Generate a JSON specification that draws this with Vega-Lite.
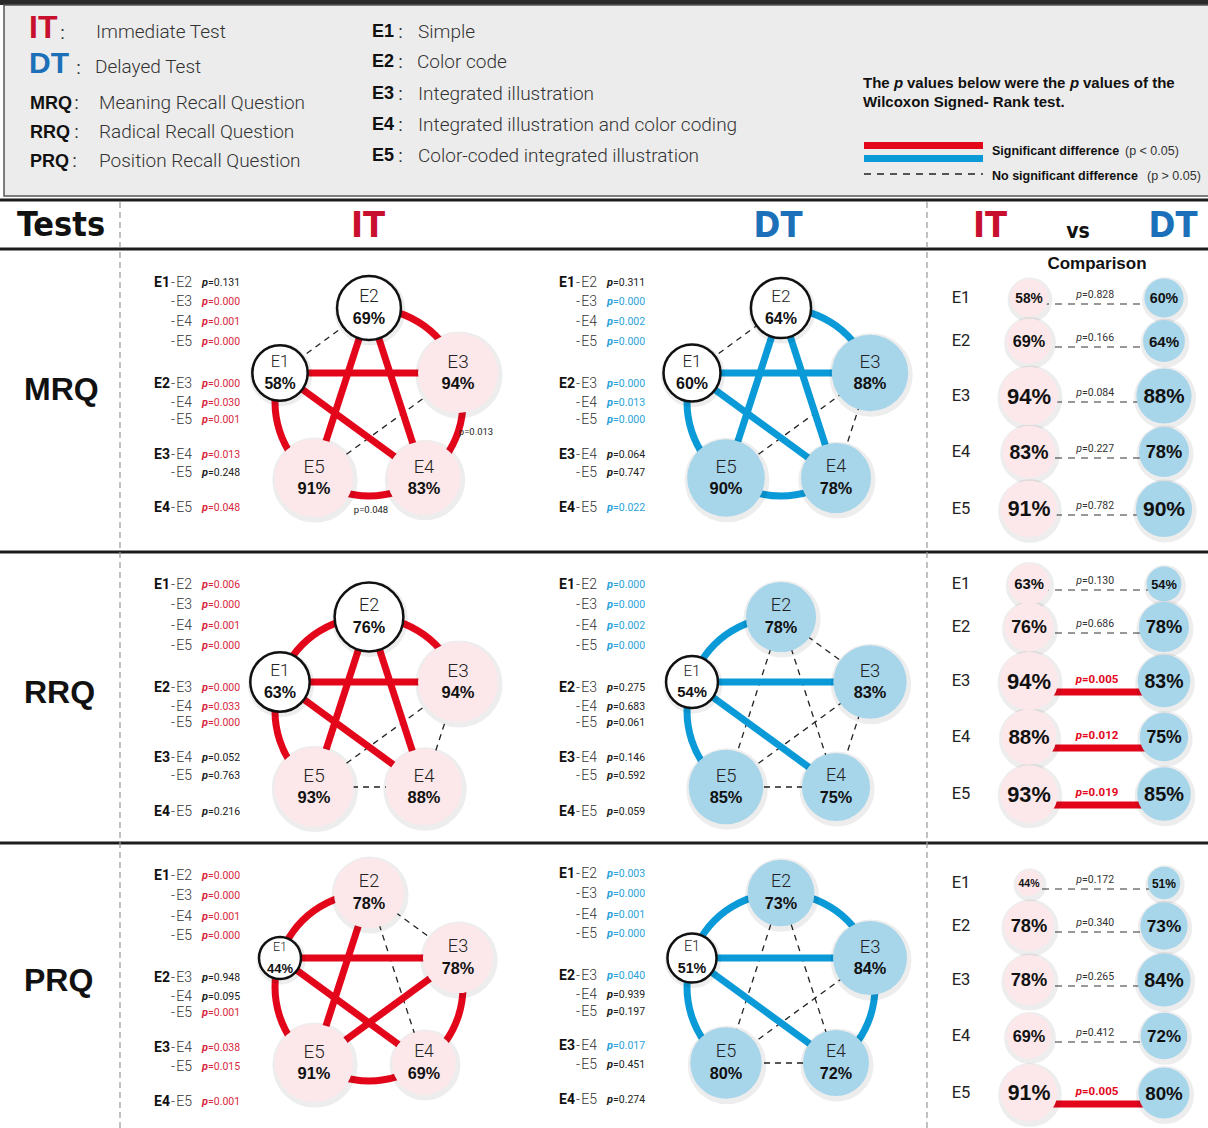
{
"$schema":"https://vega.github.io/schema/vega-lite/v6.json",
"width":1208,"height":1128,
"autosize":{"type":"none"},
"padding":0,
"background":"#ffffff",
"config":{"view":{"stroke":null},"locale":{"number":{"decimal":".","thousands":",","grouping":[3],"currency":["=",""]}}},
"datasets":{
"shapes":[
{"role":"top","x":0,"x2":1208,"y":0,"y2":5},
{"role":"hdr","x":4,"x2":1214,"y":5,"y2":196},
{"role":"red","x":864,"x2":983,"y":142,"y2":149},
{"role":"blue","x":864,"x2":983,"y":155,"y2":162}
],
"lines":[
{"role":"thick","x":0,"x2":1208,"y":200},
{"role":"thick","x":0,"x2":1208,"y":249},
{"role":"thick","x":0,"x2":1208,"y":552},
{"role":"thick","x":0,"x2":1208,"y":843},
{"role":"keydash","x":864,"x2":983,"y":174},
{"role":"v","x":120,"y":202,"y2":1128},
{"role":"v","x":927,"y":202,"y2":1128}
],
"labels":[
{"role":"legIT","text":"IT","x":29,"y":28},
{"role":"legDT","text":"DT","x":29,"y":64},
{"role":"legColon","text":":","x":60,"y":34},
{"role":"legColon","text":":","x":76,"y":69},
{"role":"legKey","text":"MRQ","x":30,"y":104},
{"role":"legColon","text":":","x":74,"y":104},
{"role":"legKey","text":"RRQ","x":30,"y":133},
{"role":"legColon","text":":","x":74,"y":133},
{"role":"legKey","text":"PRQ","x":30,"y":162},
{"role":"legColon","text":":","x":72,"y":162},
{"role":"legText","text":"Immediate Test","x":96,"y":32},
{"role":"legText","text":"Delayed Test","x":95,"y":67},
{"role":"legText","text":"Meaning Recall Question","x":99,"y":103},
{"role":"legText","text":"Radical Recall Question","x":99,"y":132},
{"role":"legText","text":"Position Recall Question","x":99,"y":161},
{"role":"legKey","text":"E1","x":372,"y":32},
{"role":"legKey","text":"E2","x":372,"y":62},
{"role":"legKey","text":"E3","x":372,"y":94},
{"role":"legKey","text":"E4","x":372,"y":125},
{"role":"legKey","text":"E5","x":372,"y":156},
{"role":"legColon","text":":","x":398,"y":33},
{"role":"legColon","text":":","x":398,"y":63},
{"role":"legColon","text":":","x":398,"y":95},
{"role":"legColon","text":":","x":398,"y":126},
{"role":"legColon","text":":","x":398,"y":157},
{"role":"legText","text":"Simple","x":418,"y":32},
{"role":"legText","text":"Color code","x":417,"y":62},
{"role":"legText","text":"Integrated illustration","x":418,"y":94},
{"role":"legText","text":"Integrated illustration and color coding","x":418,"y":125},
{"role":"legText","text":"Color-coded integrated illustration","x":418,"y":156},
{"role":"note","text":"The","x":863,"y":83},
{"role":"noteP","text":"p","x":894,"y":83},
{"role":"note","text":"values below were the","x":907,"y":83},
{"role":"noteP","text":"p","x":1070,"y":83},
{"role":"note","text":"values of the","x":1083,"y":83},
{"role":"note","text":"Wilcoxon Signed- Rank test.","x":863,"y":102},
{"role":"keyBold","text":"Significant difference","x":992,"y":151},
{"role":"keyReg","text":"(p < 0.05)","x":1125,"y":151},
{"role":"keyBold","text":"No significant difference","x":992,"y":176},
{"role":"keyReg","text":"(p > 0.05)","x":1147,"y":176},
{"role":"tests","text":"Tests","x":17,"y":226},
{"role":"colIT","text":"IT","x":368,"y":226},
{"role":"colDT","text":"DT","x":778,"y":226},
{"role":"colIT","text":"IT","x":990,"y":226},
{"role":"colDT","text":"DT","x":1173,"y":226},
{"role":"vs","text":"vs","x":1078,"y":232},
{"role":"rowHead","text":"MRQ","x":24,"y":390},
{"role":"rowHead","text":"RRQ","x":24,"y":693},
{"role":"rowHead","text":"PRQ","x":24,"y":981},
{"role":"compHead","text":"Comparison","x":1097,"y":264},
{"role":"annot","text":"p=0.013","x":476,"y":432},
{"role":"annot","text":"p=0.048","x":371,"y":510}
],
"panels":[
{"panel":"MRQ-IT","cx":369,"cy":402},{"panel":"MRQ-DT","cx":781,"cy":402},
{"panel":"RRQ-IT","cx":369,"cy":711},{"panel":"RRQ-DT","cx":781,"cy":711},
{"panel":"PRQ-IT","cx":369,"cy":987},{"panel":"PRQ-DT","cx":781,"cy":987}
],
"pent":[
{"node":"E1","ang":288,"angEnd":288},{"node":"E2","ang":0,"angEnd":360},
{"node":"E3","ang":72,"angEnd":72},{"node":"E4","ang":144,"angEnd":144},
{"node":"E5","ang":216,"angEnd":216}
],
"nodes":[
{"id":"MRQ-IT-E1","test":"MRQ","time":"IT","node":"E1","pct":0.58,"tier":"low","x":280,"y":373,"cx":1029,"cy":298},
{"id":"MRQ-IT-E2","test":"MRQ","time":"IT","node":"E2","pct":0.69,"tier":"low","x":369,"y":308,"cx":1029,"cy":341},
{"id":"MRQ-IT-E3","test":"MRQ","time":"IT","node":"E3","pct":0.94,"tier":"high","x":458,"y":373,"cx":1029,"cy":396},
{"id":"MRQ-IT-E4","test":"MRQ","time":"IT","node":"E4","pct":0.83,"tier":"high","x":424,"y":478,"cx":1029,"cy":452},
{"id":"MRQ-IT-E5","test":"MRQ","time":"IT","node":"E5","pct":0.91,"tier":"high","x":314,"y":478,"cx":1029,"cy":509},
{"id":"MRQ-DT-E1","test":"MRQ","time":"DT","node":"E1","pct":0.60,"tier":"low","x":692,"y":373,"cx":1164,"cy":298},
{"id":"MRQ-DT-E2","test":"MRQ","time":"DT","node":"E2","pct":0.64,"tier":"low","x":781,"y":308,"cx":1164,"cy":341},
{"id":"MRQ-DT-E3","test":"MRQ","time":"DT","node":"E3","pct":0.88,"tier":"high","x":870,"y":373,"cx":1164,"cy":396},
{"id":"MRQ-DT-E4","test":"MRQ","time":"DT","node":"E4","pct":0.78,"tier":"high","x":836,"y":478,"cx":1164,"cy":452},
{"id":"MRQ-DT-E5","test":"MRQ","time":"DT","node":"E5","pct":0.90,"tier":"high","x":726,"y":478,"cx":1164,"cy":509},
{"id":"RRQ-IT-E1","test":"RRQ","time":"IT","node":"E1","pct":0.63,"tier":"low","x":280,"y":682,"cx":1029,"cy":584},
{"id":"RRQ-IT-E2","test":"RRQ","time":"IT","node":"E2","pct":0.76,"tier":"low","x":369,"y":617,"cx":1029,"cy":627},
{"id":"RRQ-IT-E3","test":"RRQ","time":"IT","node":"E3","pct":0.94,"tier":"high","x":458,"y":682,"cx":1029,"cy":681},
{"id":"RRQ-IT-E4","test":"RRQ","time":"IT","node":"E4","pct":0.88,"tier":"high","x":424,"y":787,"cx":1029,"cy":737},
{"id":"RRQ-IT-E5","test":"RRQ","time":"IT","node":"E5","pct":0.93,"tier":"high","x":314,"y":787,"cx":1029,"cy":794},
{"id":"RRQ-DT-E1","test":"RRQ","time":"DT","node":"E1","pct":0.54,"tier":"low","x":692,"y":682,"cx":1164,"cy":584},
{"id":"RRQ-DT-E2","test":"RRQ","time":"DT","node":"E2","pct":0.78,"tier":"high","x":781,"y":617,"cx":1164,"cy":627},
{"id":"RRQ-DT-E3","test":"RRQ","time":"DT","node":"E3","pct":0.83,"tier":"high","x":870,"y":682,"cx":1164,"cy":681},
{"id":"RRQ-DT-E4","test":"RRQ","time":"DT","node":"E4","pct":0.75,"tier":"high","x":836,"y":787,"cx":1164,"cy":737},
{"id":"RRQ-DT-E5","test":"RRQ","time":"DT","node":"E5","pct":0.85,"tier":"high","x":726,"y":787,"cx":1164,"cy":794},
{"id":"PRQ-IT-E1","test":"PRQ","time":"IT","node":"E1","pct":0.44,"tier":"low","x":280,"y":958,"cx":1029,"cy":883},
{"id":"PRQ-IT-E2","test":"PRQ","time":"IT","node":"E2","pct":0.78,"tier":"high","x":369,"y":893,"cx":1029,"cy":926},
{"id":"PRQ-IT-E3","test":"PRQ","time":"IT","node":"E3","pct":0.78,"tier":"high","x":458,"y":958,"cx":1029,"cy":980},
{"id":"PRQ-IT-E4","test":"PRQ","time":"IT","node":"E4","pct":0.69,"tier":"high","x":424,"y":1063,"cx":1029,"cy":1036},
{"id":"PRQ-IT-E5","test":"PRQ","time":"IT","node":"E5","pct":0.91,"tier":"high","x":314,"y":1063,"cx":1029,"cy":1093},
{"id":"PRQ-DT-E1","test":"PRQ","time":"DT","node":"E1","pct":0.51,"tier":"low","x":692,"y":958,"cx":1164,"cy":883},
{"id":"PRQ-DT-E2","test":"PRQ","time":"DT","node":"E2","pct":0.73,"tier":"high","x":781,"y":893,"cx":1164,"cy":926},
{"id":"PRQ-DT-E3","test":"PRQ","time":"DT","node":"E3","pct":0.84,"tier":"high","x":870,"y":958,"cx":1164,"cy":980},
{"id":"PRQ-DT-E4","test":"PRQ","time":"DT","node":"E4","pct":0.72,"tier":"high","x":836,"y":1063,"cx":1164,"cy":1036},
{"id":"PRQ-DT-E5","test":"PRQ","time":"DT","node":"E5","pct":0.80,"tier":"high","x":726,"y":1063,"cx":1164,"cy":1093}
],
"pairs":[
{"panel":"MRQ-IT","time":"IT","a":"E1","b":"E2","ida":"MRQ-IT-E1","idb":"MRQ-IT-E2","p":0.131,"adj":true,"first":true,"lx":192,"ly":283},
{"panel":"MRQ-IT","time":"IT","a":"E1","b":"E3","ida":"MRQ-IT-E1","idb":"MRQ-IT-E3","p":0.000,"adj":false,"first":false,"lx":192,"ly":302},
{"panel":"MRQ-IT","time":"IT","a":"E1","b":"E4","ida":"MRQ-IT-E1","idb":"MRQ-IT-E4","p":0.001,"adj":false,"first":false,"lx":192,"ly":322},
{"panel":"MRQ-IT","time":"IT","a":"E1","b":"E5","ida":"MRQ-IT-E1","idb":"MRQ-IT-E5","p":0.000,"adj":true,"first":false,"lx":192,"ly":342},
{"panel":"MRQ-IT","time":"IT","a":"E2","b":"E3","ida":"MRQ-IT-E2","idb":"MRQ-IT-E3","p":0.000,"adj":true,"first":true,"lx":192,"ly":384},
{"panel":"MRQ-IT","time":"IT","a":"E2","b":"E4","ida":"MRQ-IT-E2","idb":"MRQ-IT-E4","p":0.030,"adj":false,"first":false,"lx":192,"ly":403},
{"panel":"MRQ-IT","time":"IT","a":"E2","b":"E5","ida":"MRQ-IT-E2","idb":"MRQ-IT-E5","p":0.001,"adj":false,"first":false,"lx":192,"ly":420},
{"panel":"MRQ-IT","time":"IT","a":"E3","b":"E4","ida":"MRQ-IT-E3","idb":"MRQ-IT-E4","p":0.013,"adj":true,"first":true,"lx":192,"ly":455},
{"panel":"MRQ-IT","time":"IT","a":"E3","b":"E5","ida":"MRQ-IT-E3","idb":"MRQ-IT-E5","p":0.248,"adj":false,"first":false,"lx":192,"ly":473},
{"panel":"MRQ-IT","time":"IT","a":"E4","b":"E5","ida":"MRQ-IT-E4","idb":"MRQ-IT-E5","p":0.048,"adj":true,"first":true,"lx":192,"ly":508},
{"panel":"MRQ-DT","time":"DT","a":"E1","b":"E2","ida":"MRQ-DT-E1","idb":"MRQ-DT-E2","p":0.311,"adj":true,"first":true,"lx":597,"ly":283},
{"panel":"MRQ-DT","time":"DT","a":"E1","b":"E3","ida":"MRQ-DT-E1","idb":"MRQ-DT-E3","p":0.000,"adj":false,"first":false,"lx":597,"ly":302},
{"panel":"MRQ-DT","time":"DT","a":"E1","b":"E4","ida":"MRQ-DT-E1","idb":"MRQ-DT-E4","p":0.002,"adj":false,"first":false,"lx":597,"ly":322},
{"panel":"MRQ-DT","time":"DT","a":"E1","b":"E5","ida":"MRQ-DT-E1","idb":"MRQ-DT-E5","p":0.000,"adj":true,"first":false,"lx":597,"ly":342},
{"panel":"MRQ-DT","time":"DT","a":"E2","b":"E3","ida":"MRQ-DT-E2","idb":"MRQ-DT-E3","p":0.000,"adj":true,"first":true,"lx":597,"ly":384},
{"panel":"MRQ-DT","time":"DT","a":"E2","b":"E4","ida":"MRQ-DT-E2","idb":"MRQ-DT-E4","p":0.013,"adj":false,"first":false,"lx":597,"ly":403},
{"panel":"MRQ-DT","time":"DT","a":"E2","b":"E5","ida":"MRQ-DT-E2","idb":"MRQ-DT-E5","p":0.000,"adj":false,"first":false,"lx":597,"ly":420},
{"panel":"MRQ-DT","time":"DT","a":"E3","b":"E4","ida":"MRQ-DT-E3","idb":"MRQ-DT-E4","p":0.064,"adj":true,"first":true,"lx":597,"ly":455},
{"panel":"MRQ-DT","time":"DT","a":"E3","b":"E5","ida":"MRQ-DT-E3","idb":"MRQ-DT-E5","p":0.747,"adj":false,"first":false,"lx":597,"ly":473},
{"panel":"MRQ-DT","time":"DT","a":"E4","b":"E5","ida":"MRQ-DT-E4","idb":"MRQ-DT-E5","p":0.022,"adj":true,"first":true,"lx":597,"ly":508},
{"panel":"RRQ-IT","time":"IT","a":"E1","b":"E2","ida":"RRQ-IT-E1","idb":"RRQ-IT-E2","p":0.006,"adj":true,"first":true,"lx":192,"ly":585},
{"panel":"RRQ-IT","time":"IT","a":"E1","b":"E3","ida":"RRQ-IT-E1","idb":"RRQ-IT-E3","p":0.000,"adj":false,"first":false,"lx":192,"ly":605},
{"panel":"RRQ-IT","time":"IT","a":"E1","b":"E4","ida":"RRQ-IT-E1","idb":"RRQ-IT-E4","p":0.001,"adj":false,"first":false,"lx":192,"ly":626},
{"panel":"RRQ-IT","time":"IT","a":"E1","b":"E5","ida":"RRQ-IT-E1","idb":"RRQ-IT-E5","p":0.000,"adj":true,"first":false,"lx":192,"ly":646},
{"panel":"RRQ-IT","time":"IT","a":"E2","b":"E3","ida":"RRQ-IT-E2","idb":"RRQ-IT-E3","p":0.000,"adj":true,"first":true,"lx":192,"ly":688},
{"panel":"RRQ-IT","time":"IT","a":"E2","b":"E4","ida":"RRQ-IT-E2","idb":"RRQ-IT-E4","p":0.033,"adj":false,"first":false,"lx":192,"ly":707},
{"panel":"RRQ-IT","time":"IT","a":"E2","b":"E5","ida":"RRQ-IT-E2","idb":"RRQ-IT-E5","p":0.000,"adj":false,"first":false,"lx":192,"ly":723},
{"panel":"RRQ-IT","time":"IT","a":"E3","b":"E4","ida":"RRQ-IT-E3","idb":"RRQ-IT-E4","p":0.052,"adj":true,"first":true,"lx":192,"ly":758},
{"panel":"RRQ-IT","time":"IT","a":"E3","b":"E5","ida":"RRQ-IT-E3","idb":"RRQ-IT-E5","p":0.763,"adj":false,"first":false,"lx":192,"ly":776},
{"panel":"RRQ-IT","time":"IT","a":"E4","b":"E5","ida":"RRQ-IT-E4","idb":"RRQ-IT-E5","p":0.216,"adj":true,"first":true,"lx":192,"ly":812},
{"panel":"RRQ-DT","time":"DT","a":"E1","b":"E2","ida":"RRQ-DT-E1","idb":"RRQ-DT-E2","p":0.000,"adj":true,"first":true,"lx":597,"ly":585},
{"panel":"RRQ-DT","time":"DT","a":"E1","b":"E3","ida":"RRQ-DT-E1","idb":"RRQ-DT-E3","p":0.000,"adj":false,"first":false,"lx":597,"ly":605},
{"panel":"RRQ-DT","time":"DT","a":"E1","b":"E4","ida":"RRQ-DT-E1","idb":"RRQ-DT-E4","p":0.002,"adj":false,"first":false,"lx":597,"ly":626},
{"panel":"RRQ-DT","time":"DT","a":"E1","b":"E5","ida":"RRQ-DT-E1","idb":"RRQ-DT-E5","p":0.000,"adj":true,"first":false,"lx":597,"ly":646},
{"panel":"RRQ-DT","time":"DT","a":"E2","b":"E3","ida":"RRQ-DT-E2","idb":"RRQ-DT-E3","p":0.275,"adj":true,"first":true,"lx":597,"ly":688},
{"panel":"RRQ-DT","time":"DT","a":"E2","b":"E4","ida":"RRQ-DT-E2","idb":"RRQ-DT-E4","p":0.683,"adj":false,"first":false,"lx":597,"ly":707},
{"panel":"RRQ-DT","time":"DT","a":"E2","b":"E5","ida":"RRQ-DT-E2","idb":"RRQ-DT-E5","p":0.061,"adj":false,"first":false,"lx":597,"ly":723},
{"panel":"RRQ-DT","time":"DT","a":"E3","b":"E4","ida":"RRQ-DT-E3","idb":"RRQ-DT-E4","p":0.146,"adj":true,"first":true,"lx":597,"ly":758},
{"panel":"RRQ-DT","time":"DT","a":"E3","b":"E5","ida":"RRQ-DT-E3","idb":"RRQ-DT-E5","p":0.592,"adj":false,"first":false,"lx":597,"ly":776},
{"panel":"RRQ-DT","time":"DT","a":"E4","b":"E5","ida":"RRQ-DT-E4","idb":"RRQ-DT-E5","p":0.059,"adj":true,"first":true,"lx":597,"ly":812},
{"panel":"PRQ-IT","time":"IT","a":"E1","b":"E2","ida":"PRQ-IT-E1","idb":"PRQ-IT-E2","p":0.000,"adj":true,"first":true,"lx":192,"ly":876},
{"panel":"PRQ-IT","time":"IT","a":"E1","b":"E3","ida":"PRQ-IT-E1","idb":"PRQ-IT-E3","p":0.000,"adj":false,"first":false,"lx":192,"ly":896},
{"panel":"PRQ-IT","time":"IT","a":"E1","b":"E4","ida":"PRQ-IT-E1","idb":"PRQ-IT-E4","p":0.001,"adj":false,"first":false,"lx":192,"ly":917},
{"panel":"PRQ-IT","time":"IT","a":"E1","b":"E5","ida":"PRQ-IT-E1","idb":"PRQ-IT-E5","p":0.000,"adj":true,"first":false,"lx":192,"ly":936},
{"panel":"PRQ-IT","time":"IT","a":"E2","b":"E3","ida":"PRQ-IT-E2","idb":"PRQ-IT-E3","p":0.948,"adj":true,"first":true,"lx":192,"ly":978},
{"panel":"PRQ-IT","time":"IT","a":"E2","b":"E4","ida":"PRQ-IT-E2","idb":"PRQ-IT-E4","p":0.095,"adj":false,"first":false,"lx":192,"ly":997},
{"panel":"PRQ-IT","time":"IT","a":"E2","b":"E5","ida":"PRQ-IT-E2","idb":"PRQ-IT-E5","p":0.001,"adj":false,"first":false,"lx":192,"ly":1013},
{"panel":"PRQ-IT","time":"IT","a":"E3","b":"E4","ida":"PRQ-IT-E3","idb":"PRQ-IT-E4","p":0.038,"adj":true,"first":true,"lx":192,"ly":1048},
{"panel":"PRQ-IT","time":"IT","a":"E3","b":"E5","ida":"PRQ-IT-E3","idb":"PRQ-IT-E5","p":0.015,"adj":false,"first":false,"lx":192,"ly":1067},
{"panel":"PRQ-IT","time":"IT","a":"E4","b":"E5","ida":"PRQ-IT-E4","idb":"PRQ-IT-E5","p":0.001,"adj":true,"first":true,"lx":192,"ly":1102},
{"panel":"PRQ-DT","time":"DT","a":"E1","b":"E2","ida":"PRQ-DT-E1","idb":"PRQ-DT-E2","p":0.003,"adj":true,"first":true,"lx":597,"ly":874},
{"panel":"PRQ-DT","time":"DT","a":"E1","b":"E3","ida":"PRQ-DT-E1","idb":"PRQ-DT-E3","p":0.000,"adj":false,"first":false,"lx":597,"ly":894},
{"panel":"PRQ-DT","time":"DT","a":"E1","b":"E4","ida":"PRQ-DT-E1","idb":"PRQ-DT-E4","p":0.001,"adj":false,"first":false,"lx":597,"ly":915},
{"panel":"PRQ-DT","time":"DT","a":"E1","b":"E5","ida":"PRQ-DT-E1","idb":"PRQ-DT-E5","p":0.000,"adj":true,"first":false,"lx":597,"ly":934},
{"panel":"PRQ-DT","time":"DT","a":"E2","b":"E3","ida":"PRQ-DT-E2","idb":"PRQ-DT-E3","p":0.040,"adj":true,"first":true,"lx":597,"ly":976},
{"panel":"PRQ-DT","time":"DT","a":"E2","b":"E4","ida":"PRQ-DT-E2","idb":"PRQ-DT-E4","p":0.939,"adj":false,"first":false,"lx":597,"ly":995},
{"panel":"PRQ-DT","time":"DT","a":"E2","b":"E5","ida":"PRQ-DT-E2","idb":"PRQ-DT-E5","p":0.197,"adj":false,"first":false,"lx":597,"ly":1012},
{"panel":"PRQ-DT","time":"DT","a":"E3","b":"E4","ida":"PRQ-DT-E3","idb":"PRQ-DT-E4","p":0.017,"adj":true,"first":true,"lx":597,"ly":1046},
{"panel":"PRQ-DT","time":"DT","a":"E3","b":"E5","ida":"PRQ-DT-E3","idb":"PRQ-DT-E5","p":0.451,"adj":false,"first":false,"lx":597,"ly":1065},
{"panel":"PRQ-DT","time":"DT","a":"E4","b":"E5","ida":"PRQ-DT-E4","idb":"PRQ-DT-E5","p":0.274,"adj":true,"first":true,"lx":597,"ly":1100}
],
"ctests":[
{"test":"MRQ","node":"E1","p":0.828,"x":1029,"x2":1164,"y":298,"tx":1082,"lx":961},
{"test":"MRQ","node":"E2","p":0.166,"x":1029,"x2":1164,"y":341,"tx":1082,"lx":961},
{"test":"MRQ","node":"E3","p":0.084,"x":1029,"x2":1164,"y":396,"tx":1082,"lx":961},
{"test":"MRQ","node":"E4","p":0.227,"x":1029,"x2":1164,"y":452,"tx":1082,"lx":961},
{"test":"MRQ","node":"E5","p":0.782,"x":1029,"x2":1164,"y":509,"tx":1082,"lx":961},
{"test":"RRQ","node":"E1","p":0.130,"x":1029,"x2":1164,"y":584,"tx":1082,"lx":961},
{"test":"RRQ","node":"E2","p":0.686,"x":1029,"x2":1164,"y":627,"tx":1082,"lx":961},
{"test":"RRQ","node":"E3","p":0.005,"x":1029,"x2":1164,"y":681,"tx":1082,"lx":961},
{"test":"RRQ","node":"E4","p":0.012,"x":1029,"x2":1164,"y":737,"tx":1082,"lx":961},
{"test":"RRQ","node":"E5","p":0.019,"x":1029,"x2":1164,"y":794,"tx":1082,"lx":961},
{"test":"PRQ","node":"E1","p":0.172,"x":1029,"x2":1164,"y":883,"tx":1082,"lx":961},
{"test":"PRQ","node":"E2","p":0.340,"x":1029,"x2":1164,"y":926,"tx":1082,"lx":961},
{"test":"PRQ","node":"E3","p":0.265,"x":1029,"x2":1164,"y":980,"tx":1082,"lx":961},
{"test":"PRQ","node":"E4","p":0.412,"x":1029,"x2":1164,"y":1036,"tx":1082,"lx":961},
{"test":"PRQ","node":"E5","p":0.005,"x":1029,"x2":1164,"y":1093,"tx":1082,"lx":961}
]
},
"encoding":{
"x":{"field":"x","type":"quantitative","scale":{"domain":[0,1208],"nice":false,"zero":false},"axis":null},
"y":{"field":"y","type":"quantitative","scale":{"domain":[0,1128],"nice":false,"zero":false,"reverse":true},"axis":null}
},
"resolve":{"scale":{"size":"independent"}},
"layer":[
{"data":{"name":"shapes"},"transform":[{"filter":"datum.role=='top'"}],"mark":{"type":"rect","color":"#2a2a2a"},"encoding":{"x2":{"field":"x2"},"y2":{"field":"y2"}}},
{"data":{"name":"shapes"},"transform":[{"filter":"datum.role=='hdr'"}],"mark":{"type":"rect","fill":"#ececec","stroke":"#555555","strokeWidth":1.5},"encoding":{"x2":{"field":"x2"},"y2":{"field":"y2"}}},
{"data":{"name":"shapes"},"transform":[{"filter":"datum.role=='red' || datum.role=='blue'"}],"mark":{"type":"rect"},"encoding":{"x2":{"field":"x2"},"y2":{"field":"y2"},"fill":{"condition":{"test":"datum.role=='red'","value":"#e3061b"},"value":"#0a9ad8"}}},
{"data":{"name":"lines"},"transform":[{"filter":"datum.role=='thick'"}],"mark":{"type":"rule","color":"#1c1c1c","strokeWidth":3},"encoding":{"x2":{"field":"x2"}}},
{"data":{"name":"lines"},"transform":[{"filter":"datum.role=='keydash'"}],"mark":{"type":"rule","color":"#222222","strokeWidth":1.3,"strokeDash":[7,6]},"encoding":{"x2":{"field":"x2"}}},
{"data":{"name":"lines"},"transform":[{"filter":"datum.role=='v'"}],"mark":{"type":"rule","color":"#999999","strokeWidth":1.2,"strokeDash":[6,4]},"encoding":{"y2":{"field":"y2"}}},

{"data":{"name":"labels"},"transform":[{"filter":"datum.role=='legIT'"}],"mark":{"type":"text","align":"left","font":"'Liberation Sans', Arial, sans-serif","fontWeight":"bold","fontSize":32,"color":"#c8102e"},"encoding":{"text":{"field":"text"}}},
{"data":{"name":"labels"},"transform":[{"filter":"datum.role=='legDT'"}],"mark":{"type":"text","align":"left","font":"'Liberation Sans', Arial, sans-serif","fontWeight":"bold","fontSize":30,"color":"#1b70b9"},"encoding":{"text":{"field":"text"}}},
{"data":{"name":"labels"},"transform":[{"filter":"datum.role=='legKey'"}],"mark":{"type":"text","align":"left","font":"'Liberation Sans', Arial, sans-serif","fontWeight":"bold","fontSize":18,"color":"#111111"},"encoding":{"text":{"field":"text"}}},
{"data":{"name":"labels"},"transform":[{"filter":"datum.role=='legColon'"}],"mark":{"type":"text","align":"left","font":"'Liberation Sans', Arial, sans-serif","fontSize":18,"color":"#333333"},"encoding":{"text":{"field":"text"}}},
{"data":{"name":"labels"},"transform":[{"filter":"datum.role=='legText'"}],"mark":{"type":"text","align":"left","font":"Roboto, 'Liberation Sans', sans-serif","fontWeight":300,"fontSize":19,"color":"#333333"},"encoding":{"text":{"field":"text"}}},
{"data":{"name":"labels"},"transform":[{"filter":"datum.role=='note'"}],"mark":{"type":"text","align":"left","font":"'Liberation Sans', Arial, sans-serif","fontWeight":"bold","fontSize":15,"color":"#111111"},"encoding":{"text":{"field":"text"}}},
{"data":{"name":"labels"},"transform":[{"filter":"datum.role=='noteP'"}],"mark":{"type":"text","align":"left","font":"'Liberation Sans', Arial, sans-serif","fontWeight":"bold","fontStyle":"italic","fontSize":15,"color":"#111111"},"encoding":{"text":{"field":"text"}}},
{"data":{"name":"labels"},"transform":[{"filter":"datum.role=='keyBold'"}],"mark":{"type":"text","align":"left","font":"'Liberation Sans', Arial, sans-serif","fontWeight":"bold","fontSize":12.5,"color":"#111111"},"encoding":{"text":{"field":"text"}}},
{"data":{"name":"labels"},"transform":[{"filter":"datum.role=='keyReg'"}],"mark":{"type":"text","align":"left","font":"'Liberation Sans', Arial, sans-serif","fontSize":12.5,"color":"#333333"},"encoding":{"text":{"field":"text"}}},
{"data":{"name":"labels"},"transform":[{"filter":"datum.role=='tests'"}],"mark":{"type":"text","align":"left","font":"'Liberation Sans Narrow', 'DejaVu Sans Condensed', 'Liberation Sans', sans-serif","fontWeight":"bold","fontSize":34,"color":"#111111"},"encoding":{"text":{"field":"text"}}},
{"data":{"name":"labels"},"transform":[{"filter":"datum.role=='colIT'"}],"mark":{"type":"text","align":"center","font":"'Liberation Sans Narrow', 'DejaVu Sans Condensed', 'Liberation Sans', sans-serif","fontWeight":"bold","fontSize":36,"color":"#c8102e"},"encoding":{"text":{"field":"text"}}},
{"data":{"name":"labels"},"transform":[{"filter":"datum.role=='colDT'"}],"mark":{"type":"text","align":"center","font":"'Liberation Sans Narrow', 'DejaVu Sans Condensed', 'Liberation Sans', sans-serif","fontWeight":"bold","fontSize":36,"color":"#1b70b9"},"encoding":{"text":{"field":"text"}}},
{"data":{"name":"labels"},"transform":[{"filter":"datum.role=='vs'"}],"mark":{"type":"text","align":"center","font":"'Liberation Sans Narrow', 'DejaVu Sans Condensed', 'Liberation Sans', sans-serif","fontWeight":"bold","fontSize":21,"color":"#111111"},"encoding":{"text":{"field":"text"}}},
{"data":{"name":"labels"},"transform":[{"filter":"datum.role=='rowHead'"}],"mark":{"type":"text","align":"left","font":"'Liberation Sans', Arial, sans-serif","fontWeight":"bold","fontSize":32,"color":"#111111"},"encoding":{"text":{"field":"text"}}},
{"data":{"name":"labels"},"transform":[{"filter":"datum.role=='compHead'"}],"mark":{"type":"text","align":"center","font":"'Liberation Sans', Arial, sans-serif","fontWeight":"bold","fontSize":17,"color":"#111111"},"encoding":{"text":{"field":"text"}}},

{"data":{"name":"pairs"},"transform":[{"filter":"datum.p >= 0.05"},{"lookup":"ida","from":{"data":{"name":"nodes"},"key":"id","fields":["x","y"]}},{"lookup":"idb","from":{"data":{"name":"nodes"},"key":"id","fields":["x","y"]},"as":["x2","y2"]}],"mark":{"type":"rule","color":"#222222","strokeWidth":1.3,"strokeDash":[6,5]},"encoding":{"x2":{"field":"x2"},"y2":{"field":"y2"}}},
{"data":{"name":"pairs"},"transform":[{"filter":"datum.p < 0.05 && !datum.adj"},{"lookup":"ida","from":{"data":{"name":"nodes"},"key":"id","fields":["x","y"]}},{"lookup":"idb","from":{"data":{"name":"nodes"},"key":"id","fields":["x","y"]},"as":["x2","y2"]}],"mark":{"type":"rule","strokeWidth":7},"encoding":{"x2":{"field":"x2"},"y2":{"field":"y2"},"color":{"field":"time","type":"nominal","scale":{"domain":["IT","DT"],"range":["#e3061b","#0a9ad8"]},"legend":null}}},
{"data":{"name":"pairs"},"transform":[{"filter":"datum.p < 0.05 && datum.adj"},{"lookup":"panel","from":{"data":{"name":"panels"},"key":"panel","fields":["cx","cy"]}},{"lookup":"a","from":{"data":{"name":"pent"},"key":"node","fields":["ang"]},"as":["t1"]},{"lookup":"b","from":{"data":{"name":"pent"},"key":"node","fields":["angEnd"]},"as":["t2"]}],"mark":{"type":"arc","radius":97.5,"radius2":90.5},"encoding":{"x":{"field":"cx","type":"quantitative","scale":{"domain":[0,1208],"nice":false,"zero":false},"axis":null},"y":{"field":"cy","type":"quantitative","scale":{"domain":[0,1128],"nice":false,"zero":false,"reverse":true},"axis":null},"theta":{"field":"t1","type":"quantitative","scale":{"domain":[0,360],"range":[0,6.283185307179586]},"stack":null},"theta2":{"field":"t2"},"color":{"field":"time","type":"nominal","scale":{"domain":["IT","DT"],"range":["#e3061b","#0a9ad8"]},"legend":null}}},

{"data":{"name":"nodes"},"mark":{"type":"circle","opacity":1,"fill":"#000000","fillOpacity":0,"stroke":"#000000","strokeOpacity":0.07,"strokeWidth":7,"xOffset":1,"yOffset":2},"encoding":{"size":{"field":"pct","type":"quantitative","scale":{"domain":[0.44,0.94],"range":[1764,6400],"zero":false},"legend":null}}},
{"data":{"name":"nodes"},"mark":{"type":"circle","opacity":1,"strokeWidth":2.5},"encoding":{"size":{"field":"pct","type":"quantitative","scale":{"domain":[0.44,0.94],"range":[1764,6400],"zero":false},"legend":null},"fill":{"condition":[{"test":"datum.tier=='low'","value":"#ffffff"},{"test":"datum.time=='IT'","value":"#fce8ea"}],"value":"#a7d5ea"},"stroke":{"condition":{"test":"datum.tier=='low'","value":"#111111"},"value":"transparent"}}},
{"data":{"name":"nodes"},"mark":{"type":"text","font":"Roboto, 'Liberation Sans', sans-serif","fontWeight":300,"color":"#222222","dy":-11},"encoding":{"text":{"field":"node"},"size":{"field":"pct","type":"quantitative","scale":{"domain":[0.44,0.6,0.94],"range":[12.5,17,19],"clamp":true,"zero":false},"legend":null}}},
{"data":{"name":"nodes"},"mark":{"type":"text","font":"'Liberation Sans', Arial, sans-serif","fontWeight":"bold","color":"#111111","dy":11},"encoding":{"text":{"field":"pct","type":"quantitative","format":".0%"},"size":{"field":"pct","type":"quantitative","scale":{"domain":[0.44,0.6,0.94],"range":[13,16,16.5],"clamp":true,"zero":false},"legend":null}}},
{"data":{"name":"labels"},"transform":[{"filter":"datum.role=='annot'"}],"mark":{"type":"text","align":"center","font":"Roboto, 'Liberation Sans', sans-serif","fontSize":9.5,"color":"#222222"},"encoding":{"text":{"field":"text"}}},

{"data":{"name":"pairs"},"mark":{"type":"text","align":"right","font":"Roboto, 'Liberation Sans', sans-serif","fontWeight":300,"fontSize":14,"color":"#333333"},"encoding":{"x":{"field":"lx","type":"quantitative","scale":{"domain":[0,1208],"nice":false,"zero":false},"axis":null},"y":{"field":"ly","type":"quantitative","scale":{"domain":[0,1128],"nice":false,"zero":false,"reverse":true},"axis":null},"text":{"field":"b"}}},
{"data":{"name":"pairs"},"mark":{"type":"text","align":"right","dx":-17,"font":"Roboto, 'Liberation Sans', sans-serif","fontWeight":300,"fontSize":14,"color":"#333333"},"encoding":{"x":{"field":"lx","type":"quantitative","scale":{"domain":[0,1208],"nice":false,"zero":false},"axis":null},"y":{"field":"ly","type":"quantitative","scale":{"domain":[0,1128],"nice":false,"zero":false,"reverse":true},"axis":null},"text":{"value":"-"}}},
{"data":{"name":"pairs"},"transform":[{"filter":"datum.first"}],"mark":{"type":"text","align":"right","dx":-22,"font":"Roboto, 'Liberation Sans', sans-serif","fontWeight":"bold","fontSize":14,"color":"#111111"},"encoding":{"x":{"field":"lx","type":"quantitative","scale":{"domain":[0,1208],"nice":false,"zero":false},"axis":null},"y":{"field":"ly","type":"quantitative","scale":{"domain":[0,1128],"nice":false,"zero":false,"reverse":true},"axis":null},"text":{"field":"a"}}},
{"data":{"name":"pairs"},"mark":{"type":"text","align":"left","dx":10,"font":"Roboto, 'Liberation Sans', sans-serif","fontWeight":"bold","fontStyle":"italic","fontSize":11},"encoding":{"x":{"field":"lx","type":"quantitative","scale":{"domain":[0,1208],"nice":false,"zero":false},"axis":null},"y":{"field":"ly","type":"quantitative","scale":{"domain":[0,1128],"nice":false,"zero":false,"reverse":true},"axis":null},"text":{"value":"p"},"color":{"condition":[{"test":"datum.p < 0.05 && datum.time=='IT'","value":"#d8283e"},{"test":"datum.p < 0.05 && datum.time=='DT'","value":"#2aa2da"}],"value":"#222222"}}},
{"data":{"name":"pairs"},"mark":{"type":"text","align":"left","dx":16,"font":"Roboto, 'Liberation Sans', sans-serif","fontSize":10.5},"encoding":{"x":{"field":"lx","type":"quantitative","scale":{"domain":[0,1208],"nice":false,"zero":false},"axis":null},"y":{"field":"ly","type":"quantitative","scale":{"domain":[0,1128],"nice":false,"zero":false,"reverse":true},"axis":null},"text":{"field":"p","type":"quantitative","format":"$.3f"},"color":{"condition":[{"test":"datum.p < 0.05 && datum.time=='IT'","value":"#d8283e"},{"test":"datum.p < 0.05 && datum.time=='DT'","value":"#2aa2da"}],"value":"#222222"}}},

{"data":{"name":"ctests"},"transform":[{"filter":"datum.p >= 0.05"}],"mark":{"type":"rule","color":"#333333","strokeWidth":1.2,"strokeDash":[7,6],"yOffset":6},"encoding":{"x2":{"field":"x2"}}},
{"data":{"name":"ctests"},"transform":[{"filter":"datum.p < 0.05"}],"mark":{"type":"rule","color":"#e3061b","strokeWidth":7,"yOffset":11},"encoding":{"x2":{"field":"x2"}}},
{"data":{"name":"nodes"},"mark":{"type":"circle","opacity":1,"fill":"#000000","fillOpacity":0,"stroke":"#000000","strokeOpacity":0.07,"strokeWidth":7,"xOffset":1,"yOffset":2},"encoding":{"x":{"field":"cx","type":"quantitative","scale":{"domain":[0,1208],"nice":false,"zero":false},"axis":null},"y":{"field":"cy","type":"quantitative","scale":{"domain":[0,1128],"nice":false,"zero":false,"reverse":true},"axis":null},"size":{"field":"pct","type":"quantitative","scale":{"domain":[0.44,0.94],"range":[676,3364],"zero":false},"legend":null}}},
{"data":{"name":"nodes"},"mark":{"type":"circle","opacity":1},"encoding":{"x":{"field":"cx","type":"quantitative","scale":{"domain":[0,1208],"nice":false,"zero":false},"axis":null},"y":{"field":"cy","type":"quantitative","scale":{"domain":[0,1128],"nice":false,"zero":false,"reverse":true},"axis":null},"size":{"field":"pct","type":"quantitative","scale":{"domain":[0.44,0.94],"range":[676,3364],"zero":false},"legend":null},"fill":{"condition":{"test":"datum.time=='IT'","value":"#fce8ea"},"value":"#a7d5ea"}}},
{"data":{"name":"nodes"},"mark":{"type":"text","font":"'Liberation Sans', Arial, sans-serif","fontWeight":"bold","color":"#111111","dy":1},"encoding":{"x":{"field":"cx","type":"quantitative","scale":{"domain":[0,1208],"nice":false,"zero":false},"axis":null},"y":{"field":"cy","type":"quantitative","scale":{"domain":[0,1128],"nice":false,"zero":false,"reverse":true},"axis":null},"text":{"field":"pct","type":"quantitative","format":".0%"},"size":{"field":"pct","type":"quantitative","scale":{"domain":[0.44,0.94],"range":[10.5,22],"zero":false},"legend":null}}},
{"data":{"name":"ctests"},"transform":[{"filter":"datum.p >= 0.05"}],"mark":{"type":"text","align":"right","dy":-3,"font":"Roboto, 'Liberation Sans', sans-serif","fontStyle":"italic","fontSize":10.5,"color":"#333333"},"encoding":{"x":{"field":"tx","type":"quantitative","scale":{"domain":[0,1208],"nice":false,"zero":false},"axis":null},"text":{"value":"p"}}},
{"data":{"name":"ctests"},"transform":[{"filter":"datum.p >= 0.05"}],"mark":{"type":"text","align":"left","dy":-3,"font":"Roboto, 'Liberation Sans', sans-serif","fontSize":10.5,"color":"#333333"},"encoding":{"x":{"field":"tx","type":"quantitative","scale":{"domain":[0,1208],"nice":false,"zero":false},"axis":null},"text":{"field":"p","type":"quantitative","format":"$.3f"}}},
{"data":{"name":"ctests"},"transform":[{"filter":"datum.p < 0.05"}],"mark":{"type":"text","align":"right","dy":-1,"font":"Roboto, 'Liberation Sans', sans-serif","fontStyle":"italic","fontWeight":"bold","fontSize":11.5,"color":"#e3061b"},"encoding":{"x":{"field":"tx","type":"quantitative","scale":{"domain":[0,1208],"nice":false,"zero":false},"axis":null},"text":{"value":"p"}}},
{"data":{"name":"ctests"},"transform":[{"filter":"datum.p < 0.05"}],"mark":{"type":"text","align":"left","dy":-1,"font":"Roboto, 'Liberation Sans', sans-serif","fontWeight":"bold","fontSize":11.5,"color":"#e3061b"},"encoding":{"x":{"field":"tx","type":"quantitative","scale":{"domain":[0,1208],"nice":false,"zero":false},"axis":null},"text":{"field":"p","type":"quantitative","format":"$.3f"}}},
{"data":{"name":"ctests"},"mark":{"type":"text","align":"center","font":"Roboto, 'Liberation Sans', sans-serif","fontSize":16.5,"color":"#222222"},"encoding":{"x":{"field":"lx","type":"quantitative","scale":{"domain":[0,1208],"nice":false,"zero":false},"axis":null},"text":{"field":"node"}}}
]
}
